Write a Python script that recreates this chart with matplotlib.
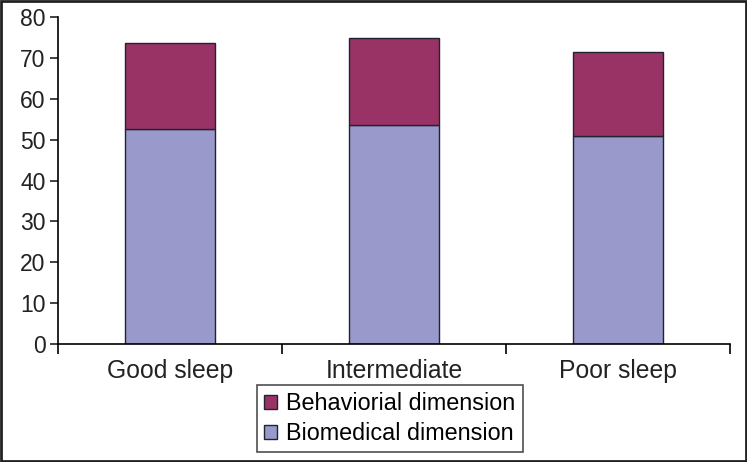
import matplotlib.pyplot as plt
from matplotlib.patches import Rectangle

plt.rcParams['font.family'] = ['Liberation Sans', 'DejaVu Sans']

# Data
categories = ["Good sleep", "Intermediate", "Poor sleep"]
biomedical = [52.5, 53.5, 50.8]
behavioral = [21.2, 21.4, 20.7]
yticks = [0, 10, 20, 30, 40, 50, 60, 70, 80]

fig = plt.figure(figsize=(7.47, 4.62), dpi=100)
ax = fig.add_axes([0.0776, 0.2554, 0.8996, 0.7078])

x = list(range(len(categories)))
ax.bar(x, biomedical, width=0.4, color="#9999CC", edgecolor="#222233",
       linewidth=1.0, label="Biomedical dimension")
ax.bar(x, behavioral, width=0.4, bottom=biomedical, color="#993366",
       edgecolor="#222233", linewidth=1.0, label="Behaviorial dimension")

ax.set_xlim(-0.5, 2.5)
ax.set_ylim(0, 80)
ax.set_yticks(yticks)
ax.tick_params(axis="y", labelsize=16.5, length=6, width=1.2, pad=3,
               colors="#222222")

# category boundaries as ticks, names centered under bars
ax.set_xticks([-0.5, 0.5, 1.5, 2.5])
ax.set_xticklabels([])
ax.tick_params(axis="x", which="major", length=7, width=1.2)
ax.set_xticks(x, minor=True)
ax.set_xticklabels(categories, minor=True)
ax.tick_params(axis="x", which="minor", length=0, pad=11, labelsize=17.8,
               colors="#222222")

for s in ["top", "right"]:
    ax.spines[s].set_visible(False)
for s in ["left", "bottom"]:
    ax.spines[s].set_linewidth(1.2)

handles, labels = ax.get_legend_handles_labels()
leg = ax.legend(handles[::-1], labels[::-1], loc="center",
                bbox_to_anchor=(0.494, -0.229), fontsize=16.8, frameon=True,
                fancybox=False, edgecolor="#222222", handlelength=0.55,
                handleheight=0.55, handletextpad=0.4, borderpad=0.3,
                labelspacing=0.3, borderaxespad=0)
leg.get_frame().set_linewidth(1.2)

# frame round the whole picture
fig.patches.append(Rectangle((0.002, 0.003), 0.996, 0.994,
                             transform=fig.transFigure, fill=False,
                             edgecolor="#222222", linewidth=2))

plt.savefig("out.png", dpi=100)
